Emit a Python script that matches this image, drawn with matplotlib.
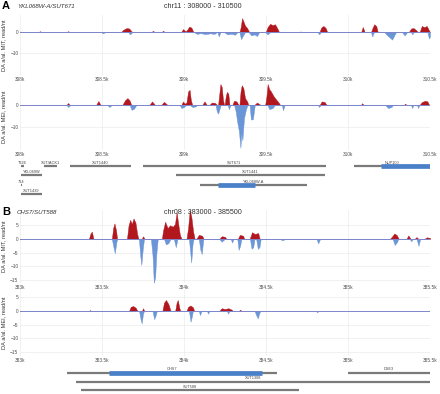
import numpy as np
import matplotlib
matplotlib.use("Agg")
import matplotlib.pyplot as plt

plt.rcParams['font.family'] = ['Liberation Sans', 'DejaVu Sans']

# ---------------------------------------------------------------------------
# Data (positions are bp offsets from the window start, values in read/nt)
# ---------------------------------------------------------------------------
a_start, b_start = 308000, 383000
win = 2500

a_mit_up = [(0, 0), (110, 0), (122, 0.5), (134, 0), (280, 0), (293, 0.5), (306, 0),
            (615, 0), (630, 1.2), (650, 2.0), (665, 1.8), (685, 0), (800, 0), (811, 0.7), (822, 0),
            (862, 0), (872, 0.7), (884, 0), (982, 0), (994, 1.5), (1010, 0.4), (1022, 1.5),
            (1032, 2.7), (1045, 2.2), (1058, 0), (1338, 0), (1346, 2.5), (1354, 6.7), (1362, 5.2),
            (1372, 3.2), (1385, 2.0), (1398, 0), (1498, 0), (1510, 2.5), (1525, 4.0), (1540, 3.4),
            (1555, 3.8), (1568, 2.0), (1580, 0), (1700, 0), (1710, 0.4), (1720, 0),
            (1826, 0), (1836, 2.2), (1850, 3.0), (1864, 2.0), (1874, 0), (2080, 0), (2090, 2.5),
            (2102, 0), (2140, 0), (2150, 2.2), (2160, 3.8), (2172, 3.0), (2182, 0),
            (2370, 0), (2385, 1.8), (2400, 2.0), (2415, 1.0), (2428, 0), (2436, 0), (2450, 3.0),
            (2465, 2.4), (2480, 3.0), (2492, 1.2), (2500, 0)]
a_mit_dn = [(0, 0), (495, 0), (506, -0.5), (518, 0), (660, 0), (671, -1.0), (684, 0),
            (1062, 0), (1080, -0.8), (1100, -0.4), (1130, -0.9), (1160, -0.5), (1185, -0.8), (1200, 0),
            (1204, 0), (1212, -2.0), (1222, 0), (1245, 0), (1265, -1.0), (1290, -0.7), (1310, -1.2),
            (1325, 0), (1338, 0), (1348, -3.3), (1360, -1.5), (1372, 0), (1395, 0), (1410, -1.5),
            (1430, -1.0), (1445, -1.8), (1458, 0), (1495, 0), (1510, -1.0), (1525, 0),
            (1815, 0), (1824, -1.0), (1834, 0), (2140, 0), (2148, -2.0), (2158, 0),
            (2222, 0), (2240, -1.5), (2255, -2.5), (2269, -3.5), (2282, -1.5), (2292, 0),
            (2330, 0), (2345, -1.5), (2360, 0), (2385, 0), (2392, -1.0), (2400, 0),
            (2484, 0), (2494, -3.0), (2500, -2.0)]
a_mei_up = [(0, 0), (285, 0), (293, 0.8), (302, 0), (465, 0), (478, 1.7), (490, 0),
            (625, 0), (640, 2.0), (655, 3.0), (668, 2.0), (678, 0), (790, 0), (805, 1.5), (822, 0),
            (862, 0), (878, 1.3), (898, 0), (984, 0), (994, 1.5), (1004, 0.5), (1015, 1.0),
            (1025, 6.0), (1034, 6.7), (1042, 2.0), (1050, 0), (1112, 0), (1125, 1.5), (1138, 0),
            (1155, 0), (1170, 1.0), (1190, 0.8), (1200, 0), (1208, 0), (1214, 4.0), (1222, 9.3),
            (1230, 8.0), (1238, 2.0), (1245, 0), (1248, 0), (1255, 4.0), (1262, 5.8), (1270, 5.0),
            (1277, 0), (1295, 0), (1305, 1.8), (1320, 1.5), (1332, 0), (1338, 0), (1345, 6.0),
            (1352, 8.8), (1362, 7.5), (1372, 3.0), (1385, 1.5), (1392, 0), (1430, 0), (1445, 1.0),
            (1465, 0), (1495, 0), (1503, 4.0), (1510, 9.3), (1520, 7.0), (1530, 6.0), (1545, 4.0),
            (1560, 2.5), (1575, 1.2), (1585, 0), (1828, 0), (1840, 1.5), (1858, 1.2), (1868, 0),
            (2080, 0), (2086, 0.7), (2094, 0), (2342, 0), (2348, 0.5), (2356, 0),
            (2438, 0), (2450, 1.2), (2470, 1.8), (2484, 1.5), (2494, 0)]
a_mei_dn = [(0, 0), (280, 0), (295, -1.0), (308, 0), (530, 0), (545, -1.0), (562, 0),
            (668, 0), (680, -2.3), (695, -1.8), (710, 0), (972, 0), (985, -1.5), (1000, -1.0), (1014, 0),
            (1034, 0), (1050, -1.0), (1070, -0.8), (1082, 0), (1192, 0), (1200, -3.0), (1208, -4.0),
            (1218, -1.5), (1224, 0), (1266, 0), (1274, -2.0), (1284, 0), (1305, 0), (1315, -3.0),
            (1325, -8.0), (1335, -12.0), (1344, -19.4), (1350, -13.0), (1356, -16.0), (1366, -6.0),
            (1378, -2.0), (1388, 0), (1400, 0), (1408, -6.7), (1420, -6.5), (1432, 0),
            (1508, 0), (1520, -2.0), (1540, -1.5), (1556, 0), (1596, 0), (1604, -2.5), (1614, 0),
            (1815, 0), (1824, -1.0), (1834, 0), (2225, 0), (2245, -1.5), (2265, -1.0), (2275, 0),
            (2384, 0), (2391, -1.5), (2400, 0), (2420, 0), (2428, -1.5), (2436, 0)]

b_mit_up = [(0, 0), (420, 0), (430, 2.0), (438, 2.7), (448, 0), (560, 0), (568, 4.0), (576, 5.7),
            (586, 3.0), (592, 0), (652, 0), (662, 5.0), (672, 7.0), (682, 5.5), (692, 7.5), (704, 6.0),
            (714, 2.0), (722, 0), (742, 0), (750, 1.0), (760, 0), (865, 0), (872, 3.0), (885, 6.3),
            (900, 4.0), (915, 5.0), (932, 4.5), (945, 5.5), (955, 9.7), (966, 5.0), (975, 1.5), (985, 0),
            (1015, 0), (1025, 4.0), (1035, 10.6), (1045, 8.0), (1055, 3.0), (1065, 0),
            (1075, 0), (1090, 1.5), (1110, 1.2), (1120, 0), (1215, 0), (1230, 1.0), (1250, 0.8),
            (1258, 0), (1328, 0), (1340, 1.5), (1360, 1.2), (1368, 0), (1400, 0), (1415, 2.5),
            (1432, 1.8), (1452, 2.2), (1462, 0), (2255, 0), (2270, 1.0), (2282, 2.0), (2296, 1.5),
            (2310, 0), (2356, 0), (2368, 1.3), (2382, 0), (2405, 0), (2418, 0.7), (2430, 0),
            (2465, 0), (2480, 0.6), (2500, 0.4)]
b_mit_dn = [(0, 0), (560, 0), (570, -3.0), (578, -5.2), (588, -1.0), (594, 0),
            (725, 0), (733, -6.0), (740, -9.5), (748, -4.0), (756, 0), (798, 0), (808, -6.0),
            (816, -16.0), (824, -14.0), (832, -5.0), (840, 0), (878, 0), (890, -2.0), (905, -1.5),
            (918, 0), (938, 0), (950, -3.0), (960, 0), (1030, 0), (1038, -5.0), (1044, -8.6),
            (1052, -2.0), (1058, 0), (1090, 0), (1100, -4.0), (1108, -5.5), (1118, 0),
            (1215, 0), (1230, -1.0), (1248, 0), (1285, 0), (1293, -1.3), (1302, 0),
            (1325, 0), (1333, -4.0), (1342, -2.5), (1350, 0), (1402, 0), (1412, -3.6), (1422, -3.0),
            (1430, 0), (1440, 0), (1450, -3.6), (1460, -3.0), (1468, 0), (1585, 0), (1600, -0.5),
            (1617, 0), (1808, 0), (1818, -1.6), (1830, 0), (2272, 0), (2285, -2.2), (2300, -1.0),
            (2306, 0), (2376, 0), (2386, -0.8), (2396, 0), (2418, 0), (2430, -2.5), (2440, 0)]
b_mei_up = [(0, 0), (420, 0), (427, 0.3), (434, 0), (665, 0), (675, 1.5), (690, 1.8), (705, 1.2),
            (716, 0), (744, 0), (750, 1.0), (758, 0), (868, 0), (878, 3.0), (890, 4.0), (905, 2.5),
            (918, 0), (946, 0), (955, 3.0), (962, 4.0), (972, 1.0), (978, 0), (1015, 0), (1025, 1.5),
            (1040, 2.0), (1055, 1.3), (1062, 0), (1215, 0), (1230, 1.0), (1250, 0.7), (1270, 1.0),
            (1290, 0.5), (1298, 0), (1335, 0), (1342, 0.5), (1350, 0)]
b_mei_dn = [(0, 0), (726, 0), (735, -3.0), (742, -4.5), (750, -1.0), (756, 0),
            (808, 0), (818, -3.0), (828, -1.5), (834, 0), (1030, 0), (1040, -3.9), (1048, -2.0),
            (1054, 0), (1090, 0), (1098, -1.5), (1106, 0), (1140, 0), (1147, -1.0), (1154, 0),
            (1262, 0), (1269, -1.0), (1276, 0), (1430, 0), (1440, -1.5), (1450, -2.7), (1458, -1.0),
            (1465, 0), (1805, 0), (1812, -0.5), (1820, 0)]

# genes: name, row, start, end, cds (start, end) or None  (bp offsets)
a_genes = [("T226", 1, 6, 24, None), ("XUT/ACK1", 1, 146, 226, None),
           ("XUT1440", 1, 305, 677, None), ("SUT671", 1, 750, 1866, None),
           ("NUP100", 1, 2037, 2500, (2201, 2500)), ("YKL069W", 2, 6, 132, None),
           ("XUT1441", 2, 951, 1860, None), ("714", 3, 6, 10, None),
           ("YKL068W-A", 3, 1098, 1750, (1207, 1433)), ("XUT1439", 4, 6, 132, None)]
b_genes = [("CHS7", 1, 285, 1567, (543, 1476)), ("DSE3", 1, 2000, 2500, None),
           ("XUT1308", 2, 342, 2500, None), ("SUT588", 3, 370, 1700, None)]

RED = '#B3171E'
BLUE = '#6A95D6'
GENE_BLUE = '#4A80C8'
GREY = '#7A7A7A'
W, H = 440, 394


def rect(top, bot, left=20, right=430):
    return [left / W, 1 - bot / H, (right - left) / W, (bot - top) / H]


def track(fig, top, bot, start, up, dn, ylim, yticks, label):
    ax = fig.add_axes(rect(top, bot))
    for pts, col in ((up, RED), (dn, BLUE)):
        p = np.array(pts, dtype=float)
        ax.fill_between(start + p[:, 0], 0, p[:, 1], color=col, lw=0.3)
    ax.axhline(0, color='#7F86CC', lw=0.7, zorder=3)
    ax.set_xlim(start, start + win)
    ax.set_ylim(*ylim)
    xt = np.arange(start, start + win + 1, 500)
    ax.set_xticks(xt)
    ax.set_xticklabels([f"{t / 1000:g}k" for t in xt])
    ax.set_yticks(yticks)
    ax.grid(True, color='#EBEBEB', lw=0.5)
    ax.set_axisbelow(True)
    for s in ax.spines.values():
        s.set_visible(False)
    ax.tick_params(length=0, pad=1.2, labelsize=3.4, colors='#4D4D4D')
    ax.set_ylabel(label, fontsize=4.1, color='#333333')
    ax.yaxis.set_label_coords(-0.034, 0.5)
    return ax


def genes(fig, top, bot, start, items, ylim, off):
    ax = fig.add_axes(rect(top, bot))
    for name, row, s, e, cds in items:
        ax.plot([start + s, start + e], [row, row], color=GREY, lw=1.6,
                solid_capstyle='butt')
        if cds is not None:
            ax.plot([start + cds[0], start + cds[1]], [row, row], color=GENE_BLUE,
                    lw=3.4, solid_capstyle='butt')
        ax.text(start + (s + e) / 2, row - off, name, fontsize=2.8, color='#444444',
                ha='center', va='bottom')
    ax.set_xlim(start, start + win)
    ax.set_ylim(*ylim)
    ax.axis('off')


fig = plt.figure(figsize=(4.4, 3.94), dpi=100)

# panel A
fig.text(2 / W, 1 - 1 / H, 'A', fontsize=8, fontweight='bold', va='top')
fig.text(17 / W, 1 - 7 / H, 'YKL068W-A/SUT671', fontsize=4.4, style='italic',
         color='#333333', va='center')
fig.text(203 / W, 1 - 7 / H, 'chr11 : 308000 - 310500', fontsize=5.1,
         color='#333333', ha='center', va='center')
track(fig, 15, 75, a_start, a_mit_up, a_mit_dn, (-20.3, 8.2), [-10, 0],
      'DA a/al. MIT, read/nt')
track(fig, 83, 150, a_start, a_mei_up, a_mei_dn, (-20.4, 9.8), [-10, 0],
      'DA a/al. MEI, read/nt')
genes(fig, 156, 198, a_start, a_genes, (4.39, -0.06), 0.12)

# panel B
fig.text(2 / W, 1 - 207 / H, 'B', fontsize=8, fontweight='bold', va='top')
fig.text(17 / W, 1 - 213 / H, 'CHS7/SUT588', fontsize=4.4, style='italic',
         color='#333333', va='center')
fig.text(203 / W, 1 - 213 / H, 'chr08 : 383000 - 385500', fontsize=5.1,
         color='#333333', ha='center', va='center')
track(fig, 210, 283, b_start, b_mit_up, b_mit_dn, (-16.1, 10.6), [-15, -10, -5, 0, 5],
      'DA a/al. MIT, read/nt')
track(fig, 289, 356, b_start, b_mei_up, b_mei_dn, (-16.4, 8.0), [-15, -10, -5, 0, 5],
      'DA a/al. MEI, read/nt')
genes(fig, 362, 394, b_start, b_genes, (3.42, -0.22), 0.15)

fig.savefig('out.png', dpi=100)
